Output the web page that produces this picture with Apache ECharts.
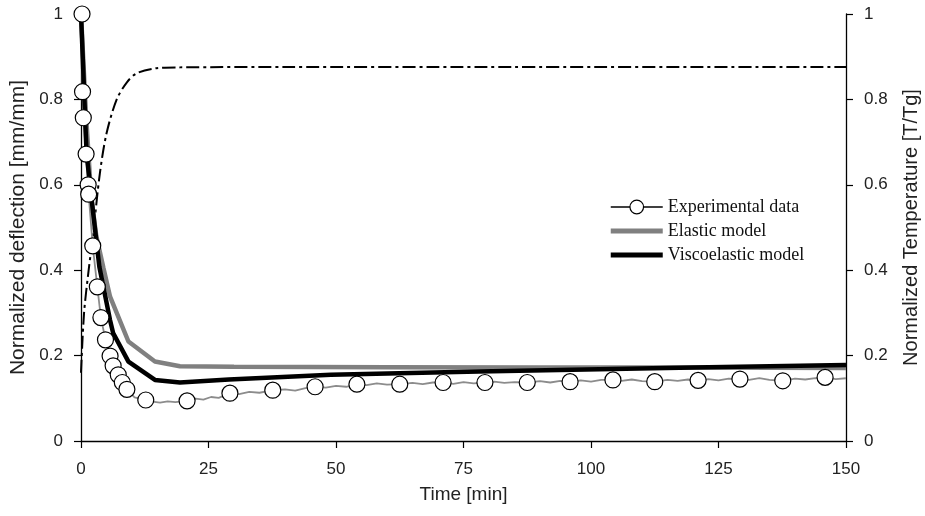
<!DOCTYPE html>
<html>
<head>
<meta charset="utf-8">
<script src="https://cdn.jsdelivr.net/npm/echarts@6/dist/echarts.min.js"></script>
<style>
  html, body { margin: 0; padding: 0; background: #fff; }
  #chart { width: 925px; height: 516px; }
</style>
</head>
<body>
<div id="chart"></div>
<script>
// x axis ticks
var xTicks = [0, 25, 50, 75, 100, 125, 150];

// experimental data (circles)
var expTime = [0.2, 0.3, 0.45, 1.0, 1.4, 1.5, 2.3, 3.2, 3.9, 4.8, 5.7, 6.3, 7.3, 8.1, 9.0, 12.7, 20.8, 29.2, 37.6, 45.9, 54.1, 62.5, 71, 79.2, 87.5, 95.9, 104.3, 112.5, 121, 129.2, 137.6, 145.9];
var expValue = [1.0, 0.818, 0.757, 0.672, 0.600, 0.578, 0.457, 0.361, 0.289, 0.237, 0.199, 0.176, 0.155, 0.137, 0.121, 0.096, 0.094, 0.112, 0.119, 0.127, 0.133, 0.133, 0.137, 0.137, 0.137, 0.139, 0.143, 0.139, 0.142, 0.145, 0.141, 0.149];

// raw measured trace (thin grey line)
var rawTime = [0, 0.3, 0.45, 1.0, 1.4, 1.5, 2.3, 3.2, 3.9, 4.8, 5.7, 6.3, 7.3, 8.1, 9.0, 10.5, 12.7, 14, 15.5, 17, 18.5, 20.8, 22.5, 24, 25.5, 27, 29.2, 31, 33, 35, 37.6, 40, 42, 44, 45.9, 48, 50, 52, 54.1, 56, 58, 60, 62.5, 65, 67, 69, 71, 73, 75, 77, 79.2, 81, 83, 85, 87.5, 90, 92, 94, 95.9, 98, 100, 102, 104.3, 106, 108, 110, 112.5, 115, 117, 119, 121, 123, 125, 127, 129.2, 131, 133, 135, 137.6, 140, 142, 144, 145.9, 148, 150];
var rawValue = [1.0, 0.818, 0.757, 0.672, 0.600, 0.578, 0.457, 0.361, 0.289, 0.237, 0.199, 0.176, 0.155, 0.137, 0.121, 0.102, 0.096, 0.092, 0.090, 0.093, 0.091, 0.094, 0.099, 0.097, 0.103, 0.101, 0.112, 0.110, 0.115, 0.113, 0.119, 0.121, 0.118, 0.124, 0.127, 0.125, 0.129, 0.127, 0.133, 0.131, 0.135, 0.132, 0.133, 0.136, 0.133, 0.137, 0.137, 0.134, 0.138, 0.135, 0.137, 0.139, 0.136, 0.138, 0.137, 0.140, 0.137, 0.141, 0.139, 0.142, 0.139, 0.143, 0.143, 0.141, 0.144, 0.140, 0.139, 0.143, 0.141, 0.144, 0.142, 0.145, 0.142, 0.146, 0.145, 0.143, 0.147, 0.143, 0.141, 0.146, 0.144, 0.147, 0.149, 0.145, 0.147];

// elastic model
var elasticTime = [0, 1, 2, 3, 4.4, 5.7, 9.3, 14.5, 19.4, 30, 60, 90, 120, 150];
var elasticValue = [1.0, 0.76, 0.57, 0.48, 0.405, 0.338, 0.233, 0.186, 0.175, 0.174, 0.173, 0.172, 0.172, 0.171];

// viscoelastic model
var viscoTime = [0, 1.1, 2.1, 3.6, 5.7, 6.3, 9.3, 14.5, 19.4, 29, 49, 78, 120, 150];
var viscoValue = [1.0, 0.672, 0.564, 0.408, 0.283, 0.253, 0.186, 0.143, 0.137, 0.144, 0.155, 0.163, 0.172, 0.178];

// temperature (right axis)
var tempTime = [0, 0.6, 1.5, 2.4, 3.7, 5, 7, 9, 10.9, 14.8, 19.4, 40, 80, 150];
var tempValue = [0.16, 0.30, 0.40, 0.487, 0.627, 0.72, 0.80, 0.84, 0.861, 0.873, 0.875, 0.876, 0.876, 0.876];

function pairs(xs, ys) {
  return xs.map(function (x, i) { return [x, ys[i]]; });
}

var chart = echarts.init(document.getElementById('chart'));
var sans = 'Liberation Sans, Arial, sans-serif';
var tickFont = { fontFamily: sans, fontSize: 17, color: '#222' };
var barIcon = 'path://M0,0 L52,0 L52,5 L0,5 Z';

function yAxisCfg(name, pos, gap, size) {
  return {
    type: 'value', position: pos, min: 0, max: 1, interval: 0.2,
    name: name, nameLocation: 'middle', nameGap: gap,
    nameTextStyle: { fontFamily: sans, fontSize: size, color: '#222' },
    axisLine: { show: true, lineStyle: { color: '#000', width: 1.3 } },
    axisTick: { show: true, inside: false, length: 7, lineStyle: { color: '#000', width: 1.2 } },
    axisLabel: Object.assign({ margin: 18, formatter: function (v) { return String(+v.toFixed(1)); } }, tickFont),
    splitLine: { show: false }
  };
}

var option = {
  animation: false,
  backgroundColor: '#fff',
  grid: { left: 81, right: 79, top: 14, bottom: 75, outerBoundsMode: 'none', containLabel: false },
  legend: {
    left: 610, top: 198, orient: 'vertical', itemGap: 6, padding: 0,
    itemWidth: 52, itemHeight: 17,
    textStyle: { fontFamily: 'Liberation Serif, Times New Roman, serif', fontSize: 18, color: '#111' },
    data: [
      { name: 'Experimental data', itemStyle: { color: '#fff', borderColor: '#000', borderWidth: 1.2 }, lineStyle: { color: '#000', width: 1.5, opacity: 1 } },
      { name: 'Elastic model', icon: barIcon, itemStyle: { color: '#808080' } },
      { name: 'Viscoelastic model', icon: barIcon, itemStyle: { color: '#000' } }
    ]
  },
  xAxis: {
    type: 'value', min: 0, max: 150, interval: 25,
    name: 'Time [min]', nameLocation: 'middle', nameGap: 44,
    nameTextStyle: { fontFamily: sans, fontSize: 19, color: '#222' },
    axisLine: { lineStyle: { color: '#000', width: 1.3 } },
    axisTick: { inside: false, length: 7, lineStyle: { color: '#000', width: 1.2 } },
    axisLabel: Object.assign({ margin: 20 }, tickFont),
    splitLine: { show: false }
  },
  yAxis: [
    yAxisCfg('Normalized deflection [mm/mm]', 'left', 50, 21),
    yAxisCfg('Normalized Temperature [T/Tg]', 'right', 55, 20)
  ],
  series: [
    {
      name: 'Temperature', type: 'line', yAxisIndex: 1, symbol: 'none', smooth: 0.3,
      lineStyle: { color: '#000', width: 2, type: [13, 4, 3, 4] },
      data: pairs(tempTime, tempValue), z: 2
    },
    {
      name: 'raw', type: 'line', symbol: 'none',
      lineStyle: { color: '#8c8c8c', width: 1.8 },
      data: pairs(rawTime, rawValue), z: 2
    },
    {
      name: 'Elastic model', type: 'line', symbol: 'none',
      itemStyle: { color: '#808080' },
      lineStyle: { color: '#808080', width: 4.5 },
      data: pairs(elasticTime, elasticValue), z: 3
    },
    {
      name: 'Viscoelastic model', type: 'line', symbol: 'none',
      itemStyle: { color: '#000' },
      lineStyle: { color: '#000', width: 4.5 },
      data: pairs(viscoTime, viscoValue), z: 4
    },
    {
      name: 'Experimental data', type: 'line', symbol: 'circle', symbolSize: 16,
      itemStyle: { color: '#fff', borderColor: '#000', borderWidth: 1.2 },
      lineStyle: { opacity: 0 },
      data: pairs(expTime, expValue), z: 5
    }
  ]
};
chart.setOption(option);
</script>
</body>
</html>
